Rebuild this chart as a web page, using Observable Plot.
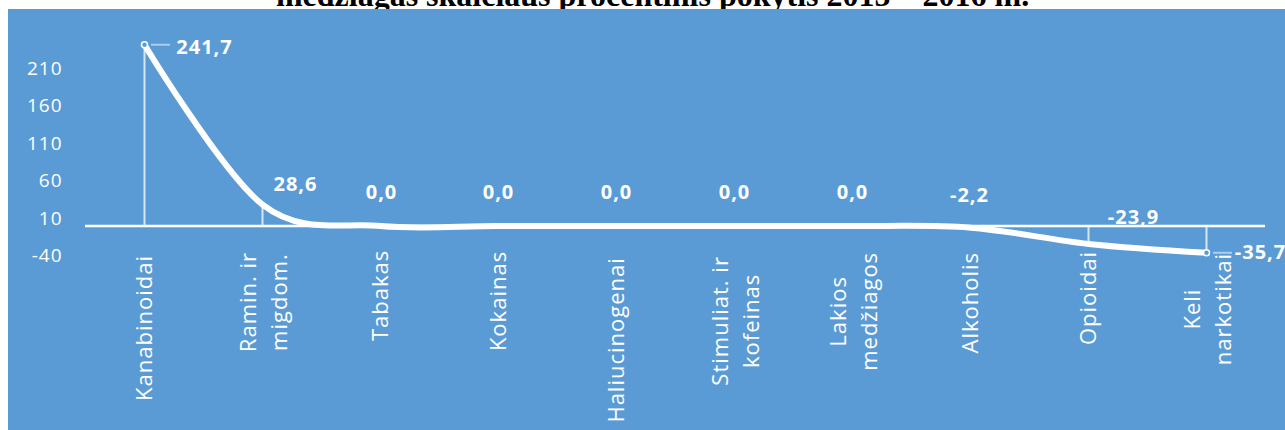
<!DOCTYPE html>
<html><head><meta charset="utf-8">
<script src="https://cdn.jsdelivr.net/npm/d3@7"></script>
<script src="https://cdn.jsdelivr.net/npm/@observablehq/plot@0.6"></script>
<style>
html,body{margin:0;padding:0;background:#fff;}
#wrap{position:relative;width:1285px;height:430px;overflow:hidden;}
#title{position:absolute;top:-21.5px;left:0;width:1305px;text-align:center;font:bold 32px "Liberation Serif","Times New Roman",serif;line-height:1;color:#000;white-space:nowrap;}
#bg{position:absolute;left:8px;top:9px;right:0;bottom:0;background:#5B9BD5;}
#chart{position:absolute;left:0;top:0;}
#chart svg text{letter-spacing:1px;}
#chart g[aria-label="xlabels"] text{letter-spacing:3.1px;}
#chart g[aria-label="vlabels"] text{letter-spacing:0.2px;}
</style></head>
<body>
<div id="wrap">
  <div id="title">medžiagas skaičiaus procentinis pokytis 2015 – 2016 m.</div>
  <div id="bg"></div>
  <div id="chart"></div>
</div>
<script>
const categories = ["Kanabinoidai","Ramin. ir migdom.","Tabakas","Kokainas","Haliucinogenai","Stimuliat. ir kofeinas","Lakios medžiagos","Alkoholis","Opioidai","Keli narkotikai"];
const axisLabelLines = [["Kanabinoidai"],["Ramin. ir","migdom."],["Tabakas"],["Kokainas"],["Haliucinogenai"],["Stimuliat. ir","kofeinas"],["Lakios","medžiagos"],["Alkoholis"],["Opioidai"],["Keli","narkotikai"]];
const values = [241.7, 28.6, 0.0, 0.0, 0.0, 0.0, 0.0, -2.2, -23.9, -35.7];
const yTicks = [-40, 10, 60, 110, 160, 210];

// label placement offsets (px) relative to each point
const labelOffsets = [[60,3],[33,-19.5],[1,-33],[0,-33],[0,-33],[0,-33],[0,-33],[-1,-32],[45,-26],[54,0]];

const font = "'Open Sans', 'Noto Sans', sans-serif";
const xFontSize = 22, xLetterSpacing = 3.1;
const data = categories.map((c,i)=>({cat:c, value:values[i]}));
const fmt = v => v.toFixed(1).replace(".", ",");

// measure text length to center wrapped lines like the original
const ctx = document.createElement("canvas").getContext("2d");
ctx.font = `${xFontSize}px 'Open Sans'`;
const textLen = s => ctx.measureText(s).width + s.length * xLetterSpacing;

const valueLabels = data.map((d,i)=>Plot.text([d], {
  x:"cat", y:"value", text:d=>fmt(d.value),
  dx:labelOffsets[i][0], dy:labelOffsets[i][1],
  fill:"white", fontSize:20, fontWeight:"bold", textAnchor:"middle", ariaLabel:"vlabels"
}));

const xLabelMarks = [];
axisLabelLines.forEach((lines, i) => {
  const L = Math.max(...lines.map(textLen));
  const offs = lines.length === 1 ? [0] : [-14, 17];
  lines.forEach((line, j) => {
    xLabelMarks.push(Plot.text([{cat:categories[i], t:line}], {
      x:"cat", y:()=>0, text:"t", rotate:-90, textAnchor:"middle", lineAnchor:"middle",
      dx:offs[j], dy:18 + L/2 - xLetterSpacing/2, fill:"white", fontSize:xFontSize, ariaLabel:"xlabels"
    }));
  });
});

const chart = Plot.plot({
  width:1285, height:430,
  marginLeft:85, marginRight:20, marginTop:30, marginBottom:175,
  style:{background:"transparent", color:"white", fontFamily:font, fontSize:"19px", overflow:"visible"},
  x:{type:"point", domain:categories, padding:0.5, range:[85,1265], axis:null},
  y:{domain:[-40,260], range:[255.5,30.5], ticks:yTicks, tickSize:0, tickPadding:23, label:null, tickFormat:d=>String(d)},
  marks:[
    Plot.ruleX(data.filter(d=>d.value!==0), {x:"cat", y1:0, y2:"value", stroke:"white", strokeOpacity:0.75, strokeWidth:2}),
    Plot.ruleY([0], {stroke:"white", strokeWidth:2.5}),
    Plot.ruleY([data[0], data[9]], {x1:"cat", x2:"cat", y:"value", insetLeft:7, insetRight:-26, stroke:"white", strokeOpacity:0.5, strokeWidth:2}),
    Plot.line(data, {x:"cat", y:"value", curve:"cardinal", stroke:"white", strokeWidth:6, strokeLinecap:"round", strokeLinejoin:"round"}),
    Plot.dot([data[0], data[9]], {x:"cat", y:"value", r:3, fill:"#5B9BD5", stroke:"white", strokeWidth:1.5}),
    ...xLabelMarks,
    ...valueLabels
  ]
});
document.getElementById("chart").appendChild(chart);
</script>
</body></html>
